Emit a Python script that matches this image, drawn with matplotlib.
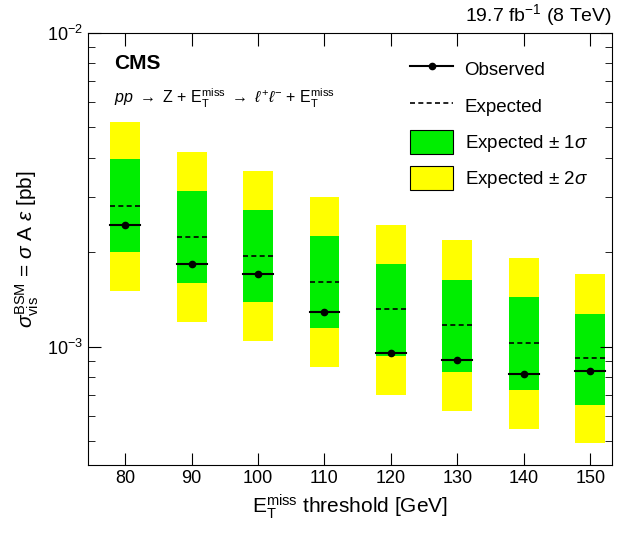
import matplotlib
matplotlib.use("Agg")
import matplotlib.pyplot as plt
from matplotlib.patches import Patch
from matplotlib.lines import Line2D
from matplotlib.ticker import LogLocator, NullFormatter

plt.rcParams['font.family'] = ['Liberation Sans', 'DejaVu Sans']
plt.rcParams['mathtext.fontset'] = 'custom'
plt.rcParams['mathtext.rm'] = 'Liberation Sans'
plt.rcParams['mathtext.it'] = 'Liberation Sans:italic'

thresholds = [80, 90, 100, 110, 120, 130, 140, 150]
observed = [2.45e-3, 1.84e-3, 1.71e-3, 1.29e-3, 0.957e-3, 0.91e-3, 0.82e-3, 0.84e-3]
expected = [2.81e-3, 2.24e-3, 1.95e-3, 1.61e-3, 1.32e-3, 1.17e-3, 1.03e-3, 0.92e-3]
s1_lo = [2.0e-3, 1.6e-3, 1.39e-3, 1.15e-3, 0.936e-3, 0.83e-3, 0.73e-3, 0.65e-3]
s1_hi = [3.95e-3, 3.14e-3, 2.73e-3, 2.26e-3, 1.84e-3, 1.63e-3, 1.44e-3, 1.27e-3]
s2_lo = [1.5e-3, 1.2e-3, 1.04e-3, 0.86e-3, 0.70e-3, 0.625e-3, 0.548e-3, 0.494e-3]
s2_hi = [5.2e-3, 4.18e-3, 3.63e-3, 3.0e-3, 2.45e-3, 2.18e-3, 1.92e-3, 1.71e-3]

fig = plt.figure(figsize=(6.19, 5.37), dpi=100)
ax = fig.add_axes([0.142, 0.134, 0.847, 0.805])
w = 4.5
for x, o, e, l1, h1, l2, h2 in zip(thresholds, observed, expected, s1_lo, s1_hi, s2_lo, s2_hi):
    ax.bar(x, h2 - l2, bottom=l2, width=w, color='#ffff00', lw=0)
    ax.bar(x, h1 - l1, bottom=l1, width=w, color='#00ee00', lw=0)
    ax.plot([x - w/2, x + w/2], [e, e], 'k--', lw=1.2, dashes=(3, 2))
    ax.plot([x - w/2, x + w/2], [o, o], 'k-', lw=1.5)
    ax.plot(x, o, 'ko', ms=4.5)

ax.set_yscale('log')
ax.set_ylim(4.2e-4, 1e-2)
ax.set_xlim(74.4, 153.3)
ax.set_xticks(thresholds)
ax.yaxis.set_minor_locator(LogLocator(subs=range(2, 10)))
ax.yaxis.set_minor_formatter(NullFormatter())
ax.tick_params(which='both', direction='in', top=True, right=True, labelsize=13)
ax.tick_params(which='major', length=9)
ax.tick_params(which='minor', length=5)
ax.set_yticks([1e-3, 1e-2])
ax.set_yticklabels(['$10^{-3}$', '$10^{-2}$'])
ax.set_xlabel(r'E$_\mathrm{T}^\mathrm{miss}$ threshold [GeV]', fontsize=15)
ax.set_ylabel(r'$\sigma_\mathrm{vis}^\mathrm{BSM}$ = $\sigma$ A $\epsilon$ [pb]', fontsize=15)

ax.text(0.05, 0.95, 'CMS', transform=ax.transAxes, fontsize=15, fontweight='bold', va='top')
ax.text(0.05, 0.875, r'$pp$ $\rightarrow$ Z + E$_\mathrm{T}^\mathrm{miss}$ $\rightarrow$ $\ell^{+}\ell^{-}$ + E$_\mathrm{T}^\mathrm{miss}$',
        transform=ax.transAxes, fontsize=11.5, va='top')
ax.text(1.0, 1.01, r'19.7 fb$^{-1}$ (8 TeV)', transform=ax.transAxes, fontsize=14, ha='right', va='bottom')

handles = [Line2D([], [], color='k', marker='o', ms=4.5, lw=1.5),
           Line2D([], [], color='k', ls='--', lw=1.2, dashes=(3, 2)),
           Patch(facecolor='#00ee00', edgecolor='k', lw=0.8),
           Patch(facecolor='#ffff00', edgecolor='k', lw=0.8)]
labels = ['Observed', 'Expected', r'Expected $\pm$ 1$\sigma$', r'Expected $\pm$ 2$\sigma$']
ax.legend(handles, labels, loc='upper right', frameon=False, fontsize=13.5,
          handlelength=2.3, handleheight=1.6, handletextpad=0.6, labelspacing=0.65,
          borderaxespad=0.9)
fig.savefig('out.png', dpi=100)
